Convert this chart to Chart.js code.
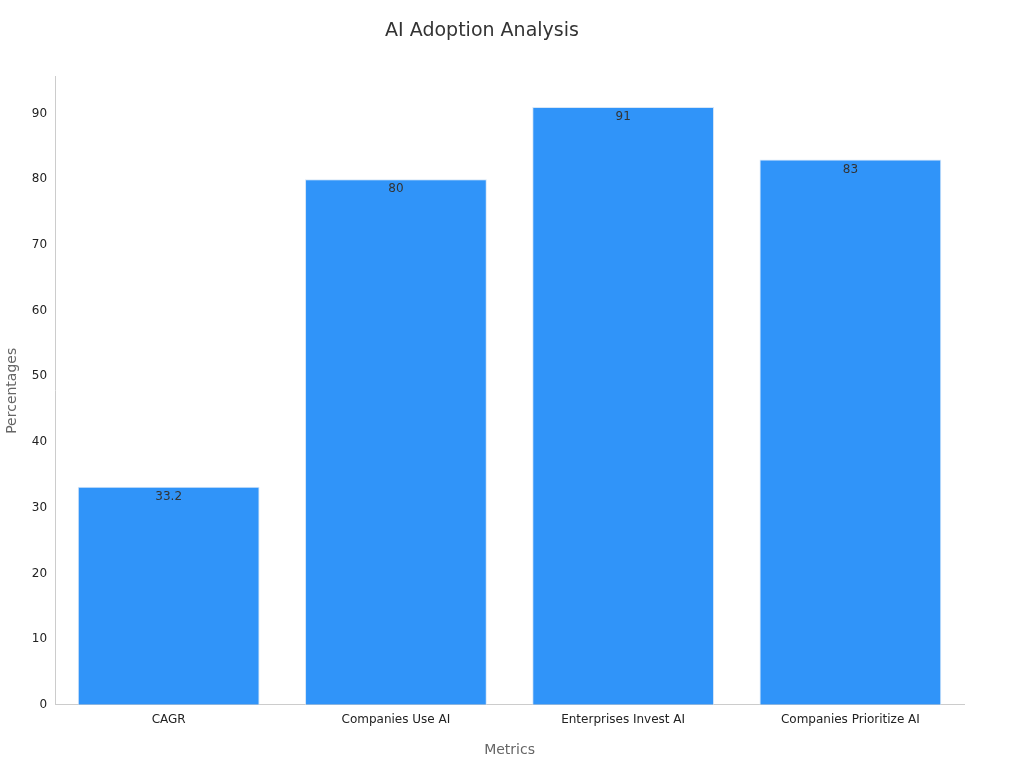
<!DOCTYPE html>
<html>
<head>
<meta charset="utf-8">
<script src="https://cdn.jsdelivr.net/npm/chart.js@4"></script>
<style>
  body { margin: 0; background: #fff; }
  #wrap { width: 1024px; height: 768px; }
</style>
</head>
<body>
<div id="wrap"><canvas id="chart"></canvas></div>
<script>
const categories = ['CAGR', 'Companies Use AI', 'Enterprises Invest AI', 'Companies Prioritize AI'];
const values = [33.2, 80, 91, 83];
const yTicks = [0, 10, 20, 30, 40, 50, 60, 70, 80, 90];

// value labels just inside the top of each bar
const barLabels = {
  id: 'barLabels',
  afterDatasetsDraw(chart) {
    const ctx = chart.ctx;
    const meta = chart.getDatasetMeta(0);
    ctx.save();
    ctx.font = '12px "DejaVu Sans", sans-serif';
    ctx.fillStyle = '#333';
    ctx.textAlign = 'center';
    ctx.textBaseline = 'top';
    meta.data.forEach((bar, i) => {
      ctx.fillText(String(values[i]), bar.x, bar.y + 4);
    });
    ctx.restore();
  }
};

new Chart(document.getElementById('chart'), {
  type: 'bar',
  data: {
    labels: categories,
    datasets: [{
      data: values,
      backgroundColor: '#3094f9',
      borderColor: '#d6e6f7',
      borderWidth: 1,
      barPercentage: 0.8,
      categoryPercentage: 1
    }]
  },
  options: {
    responsive: true,
    maintainAspectRatio: false,
    animation: false,
    layout: { padding: { left: 0, right: 60, top: 10, bottom: 5 } },
    plugins: {
      legend: { display: false },
      tooltip: { enabled: false },
      title: {
        display: true,
        text: 'AI Adoption Analysis',
        color: '#333',
        font: { family: '"DejaVu Sans", sans-serif', size: 19, weight: 'normal' },
        padding: { top: 10, bottom: 34 }
      }
    },
    scales: {
      x: {
        grid: { display: false, drawTicks: true, tickLength: 5 },
        border: { color: '#ccc' },
        ticks: { color: '#222', font: { family: '"DejaVu Sans", sans-serif', size: 12 } },
        title: {
          display: true, text: 'Metrics', color: '#666',
          font: { family: '"DejaVu Sans", sans-serif', size: 14 },
          padding: { top: 12 }
        }
      },
      y: {
        min: 0,
        max: 95.6,
        afterBuildTicks: (axis) => { axis.ticks = yTicks.map(v => ({ value: v })); },
        grid: { display: false, drawTicks: true, tickLength: 5 },
        border: { color: '#ccc' },
        ticks: { color: '#222', font: { family: '"DejaVu Sans", sans-serif', size: 12 } },
        title: {
          display: true, text: 'Percentages', color: '#666',
          font: { family: '"DejaVu Sans", sans-serif', size: 14 },
          padding: { bottom: 8 }
        }
      }
    }
  },
  plugins: [barLabels]
});
</script>
</body>
</html>
